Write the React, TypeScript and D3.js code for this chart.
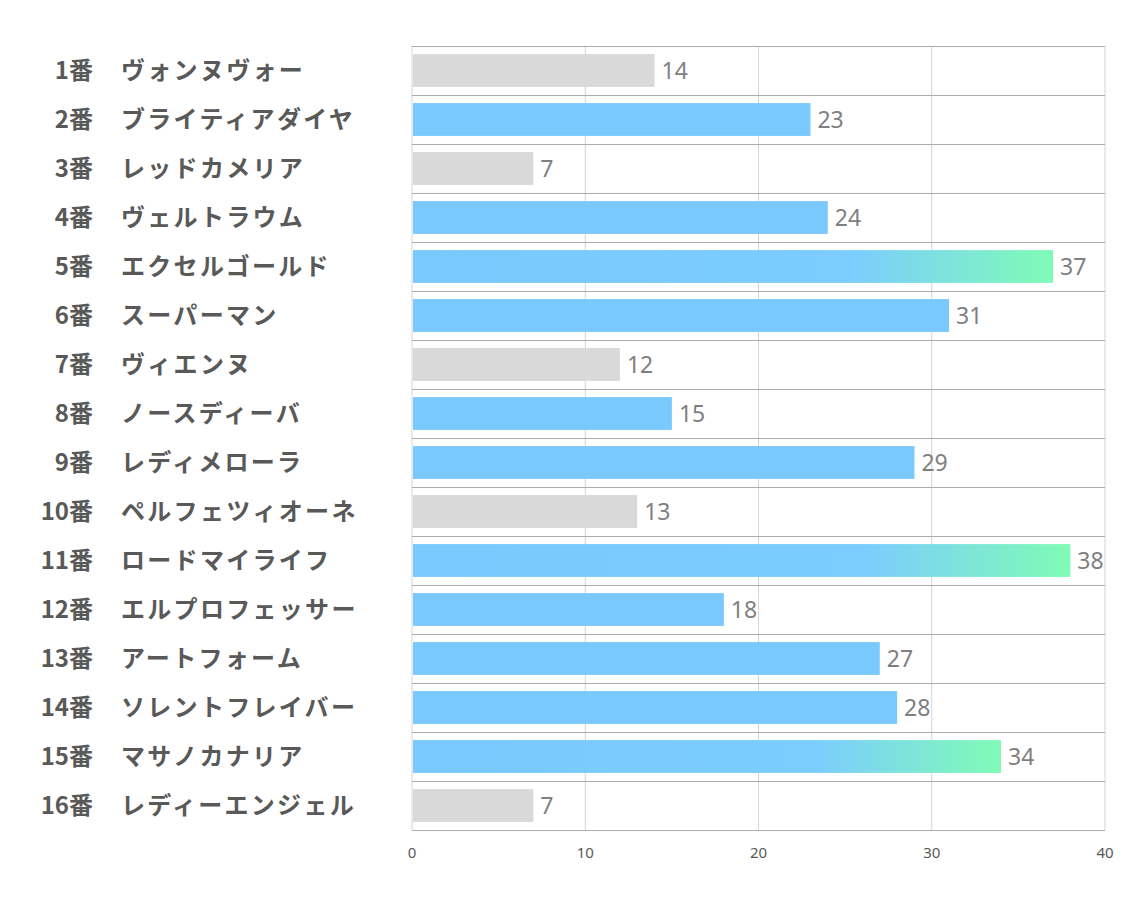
import React from "react";
import * as d3 from "d3";

const numbers = ["1番","2番","3番","4番","5番","6番","7番","8番","9番","10番","11番","12番","13番","14番","15番","16番"];
const names = ["ヴォンヌヴォー","ブライティアダイヤ","レッドカメリア","ヴェルトラウム","エクセルゴールド","スーパーマン","ヴィエンヌ","ノースディーバ","レディメローラ","ペルフェツィオーネ","ロードマイライフ","エルプロフェッサー","アートフォーム","ソレントフレイバー","マサノカナリア","レディーエンジェル"];
const values = [14,23,7,24,37,31,12,15,29,13,38,18,27,28,34,7];
// kind: g = gray, b = blue, t = top (gradient)
const kinds = ["g","b","g","b","t","b","g","b","b","g","t","b","b","b","t","g"];
const ticks = [0,10,20,30,40];

const W = 1134, H = 907;

export default function App() {
  const x = d3.scaleLinear().domain([0, 40]).range([412, 1105]);
  const y = d3.scaleBand<string>().domain(numbers).range([46, 830]).paddingInner(0.33).paddingOuter(0.165);
  const rowY = d3.scaleBand<string>().domain(numbers).range([46, 830]);
  const fillFor = (k: string) => (k === "g" ? "#D9D9D9" : k === "b" ? "#79C9FE" : "url(#topgrad)");
  return (
    <svg width={W} height={H} style={{ position: "absolute", left: 0, top: 0 }}>
      <defs>
        <linearGradient id="topgrad" x1="0" x2="1" y1="0" y2="0">
          <stop offset="0" stopColor="#79C9FE" />
          <stop offset="0.68" stopColor="#7BCCFF" />
          <stop offset="1" stopColor="#80FBB6" />
        </linearGradient>
      </defs>
      <rect x={0} y={0} width={W} height={H} fill="#fff" />
      {ticks.map((t) => (
        <line key={"v" + t} x1={x(t)} x2={x(t)} y1={46} y2={830} stroke="#D4D4D4" strokeWidth={1} />
      ))}
      {numbers.map((n) => (
        <line key={"h" + n} x1={412} x2={1105} y1={(rowY(n) as number) + 0.5} y2={(rowY(n) as number) + 0.5} stroke="#ABABAB" strokeWidth={1} />
      ))}
      <line x1={412} x2={1105} y1={830.5} y2={830.5} stroke="#ABABAB" strokeWidth={1} />
      {numbers.map((n, i) => (
        <rect key={"b" + n} x={x(0) + 1} y={y(n)} width={x(values[i]) - x(0) - 1} height={y.bandwidth()} fill={fillFor(kinds[i])} />
      ))}
      {numbers.map((n, i) => (
        <text key={"val" + n} x={x(values[i]) + 7} y={(y(n) as number) + y.bandwidth() / 2} dy="0.36em" fontFamily="'Noto Sans', sans-serif" fontSize={23} fill="#7F7F7F">
          {values[i]}
        </text>
      ))}
      {numbers.map((n, i) => {
        const cy = (rowY(n) as number) + rowY.bandwidth() / 2;
        return (
          <g key={"lab" + n} fontFamily="'Noto Sans CJK JP', sans-serif" fontWeight="bold" fontSize={24} fill="#595959">
            <text x={93} y={cy} dy="0.36em" textAnchor="end">{n}</text>
            <text x={121} y={cy} dy="0.36em" letterSpacing={2.3}>{names[i]}</text>
          </g>
        );
      })}
      {ticks.map((t) => (
        <text key={"t" + t} x={x(t)} y={853} dy="0.36em" textAnchor="middle" fontFamily="'Noto Sans', sans-serif" fontSize={15} fill="#595959">
          {t}
        </text>
      ))}
    </svg>
  );
}
